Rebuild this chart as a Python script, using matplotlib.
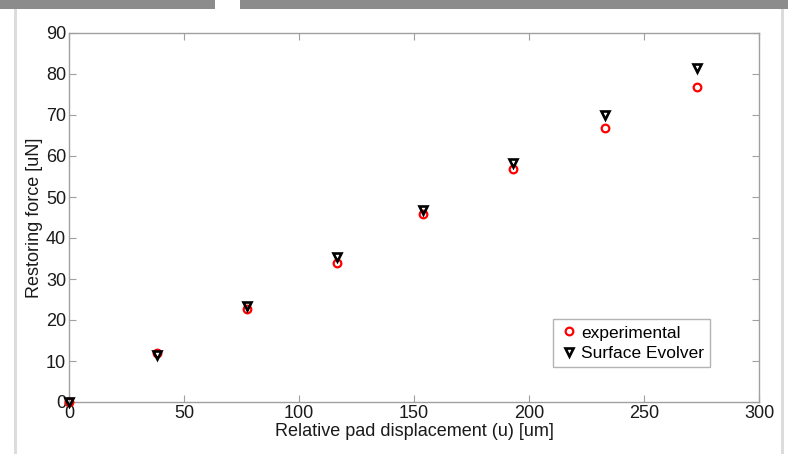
import matplotlib
matplotlib.use("Agg")
import matplotlib.pyplot as plt
from matplotlib.patches import Rectangle

plt.rcParams['font.family'] = ['Liberation Sans', 'DejaVu Sans']

# data
displacement = [0, 38.4, 77.3, 116.4, 154, 193.2, 233, 272.9]
force_exp = [0, 12.0, 22.8, 33.8, 45.9, 56.8, 66.9, 76.8]
force_se = [0, 11.5, 23.4, 35.3, 46.8, 58.2, 70.0, 81.4]

x_ticks = [0, 50, 100, 150, 200, 250, 300]
y_ticks = [0, 10, 20, 30, 40, 50, 60, 70, 80, 90]

fig = plt.figure(figsize=(7.88, 4.54), dpi=100)
fig.patch.set_facecolor('white')

# page frame / shadow around the picture
fig.patches.append(Rectangle((0, 1 - 9/454), 215/788, 9/454, transform=fig.transFigure,
                             facecolor='#8c8c8c', edgecolor='none', zorder=0))
fig.patches.append(Rectangle((240/788, 1 - 9/454), 548/788, 9/454, transform=fig.transFigure,
                             facecolor='#8c8c8c', edgecolor='none', zorder=0))
fig.patches.append(Rectangle((14/788, 0), 3/788, 1 - 9/454, transform=fig.transFigure,
                             facecolor='#dcdcdc', edgecolor='none', zorder=0))
fig.patches.append(Rectangle((781/788, 0), 3/788, 1 - 9/454, transform=fig.transFigure,
                             facecolor='#dcdcdc', edgecolor='none', zorder=0))

ax = fig.add_axes([69/788, 1 - 402/454, 690/788, 369/454])

ax.plot(displacement, force_exp, linestyle='none', marker='o', ms=5.5,
        mfc='none', mec='red', mew=1.6, label='experimental', clip_on=False, zorder=3)
ax.plot(displacement, force_se, linestyle='none', marker='v', ms=6,
        mfc='none', mec='black', mew=1.9, label='Surface Evolver', clip_on=False, zorder=3)

ax.set_xlim(0, 300)
ax.set_ylim(0, 90)
ax.set_xticks(x_ticks)
ax.set_yticks(y_ticks)

for s in ax.spines.values():
    s.set_color('#a0a0a0')
    s.set_linewidth(1.0)
ax.tick_params(direction='in', top=True, right=True, length=5, color='#a0a0a0',
               labelsize=13, labelcolor='#1a1a1a', pad=2)

ax.set_xlabel('Relative pad displacement (u) [um]', fontsize=13, color='#1a1a1a', labelpad=1)
ax.set_ylabel('Restoring force [uN]', fontsize=13, color='#1a1a1a', labelpad=2)

leg = ax.legend(loc='lower left', bbox_to_anchor=(0.701, 0.095), fontsize=12.5,
                frameon=True, fancybox=False, handletextpad=0.1, handlelength=1.2,
                borderpad=0.35, labelspacing=0.3, borderaxespad=0)
leg.get_frame().set_edgecolor('#a0a0a0')
leg.get_frame().set_linewidth(1.0)

fig.savefig('out.png', dpi=100)
